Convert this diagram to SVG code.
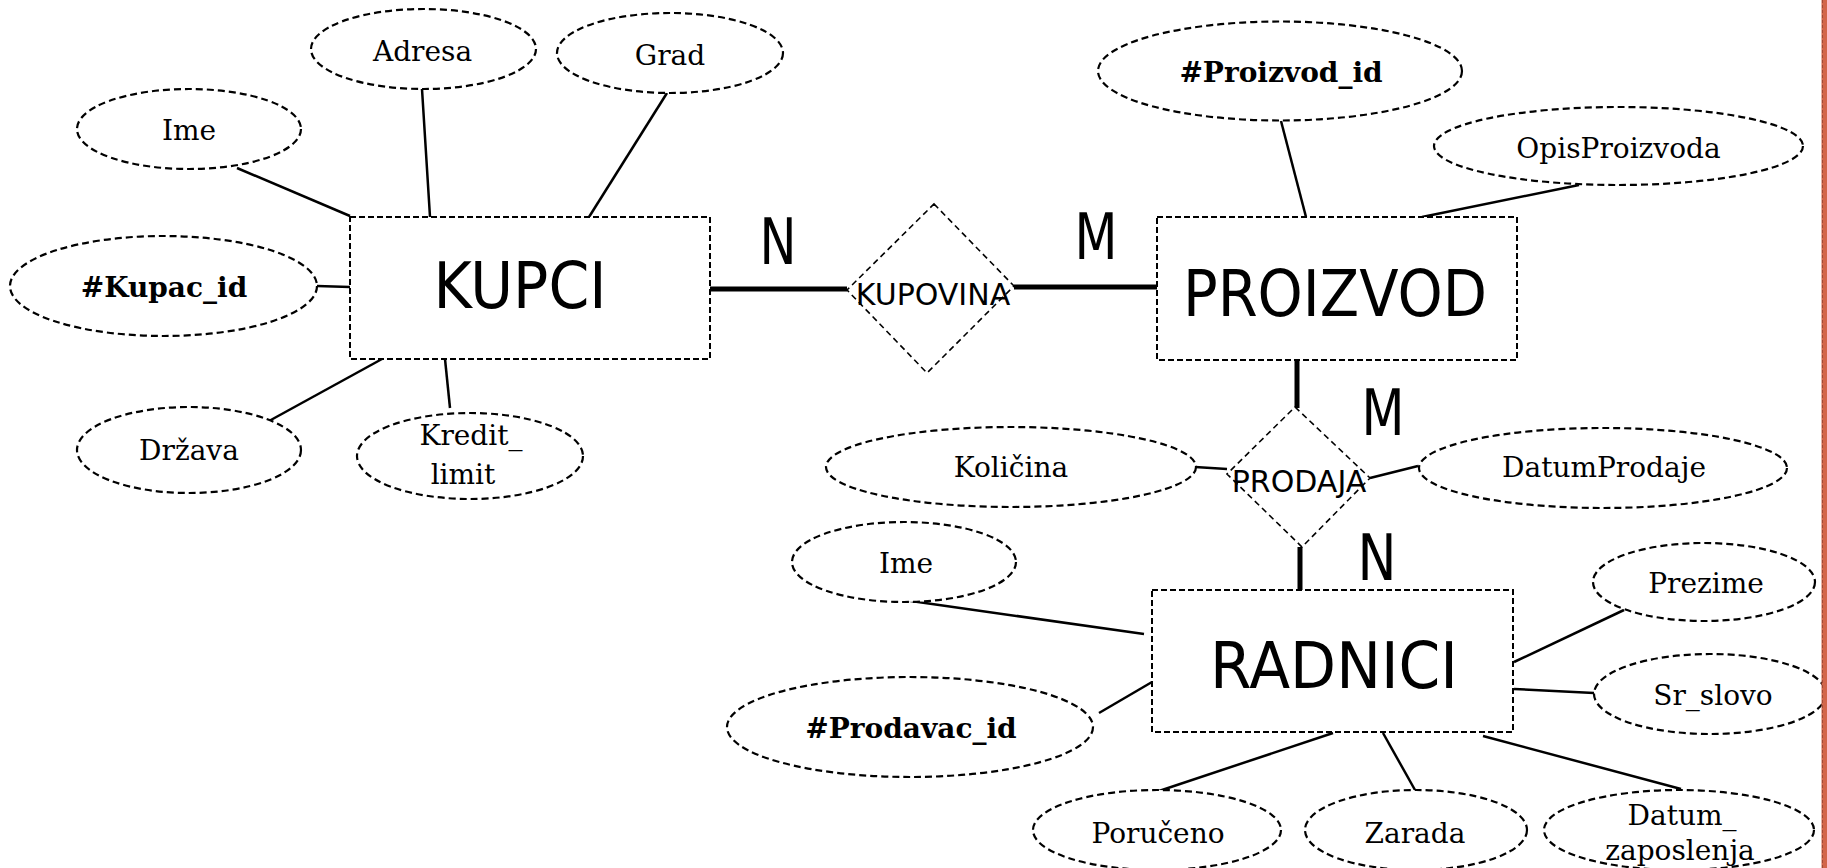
<svg xmlns="http://www.w3.org/2000/svg" width="1827" height="868" viewBox="0 0 1827 868">
<style>
.attr{fill:#fff;stroke:#000;stroke-width:2.2;stroke-dasharray:7 4}
.ent{fill:#fff;stroke:#000;stroke-width:2;stroke-dasharray:6 3}
.rel{fill:#fff;stroke:#000;stroke-width:1.6;stroke-dasharray:6 4}
.t{font-family:"DejaVu Serif","Liberation Serif",serif;font-size:28px;text-anchor:middle;fill:#000}
.b{font-weight:bold}
.big{font-family:"DejaVu Sans","Liberation Sans",sans-serif;font-size:64px;text-anchor:middle;fill:#000}
.rt{font-family:"DejaVu Sans","Liberation Sans",sans-serif;font-size:30px;text-anchor:middle;fill:#000}
.card{font-family:"DejaVu Sans","Liberation Sans",sans-serif;font-size:64px;text-anchor:middle;fill:#000}
.c{stroke:#000;stroke-width:2.5;fill:none}
.thick{stroke:#000;stroke-width:5;fill:none}
</style>
<rect width="1827" height="868" fill="#fff"/>
<g id="connectors">
<line class="c" x1="237" y1="168" x2="350" y2="216"/>
<line class="c" x1="422" y1="89" x2="430" y2="217"/>
<line class="c" x1="667" y1="93" x2="589" y2="217"/>
<line class="c" x1="317" y1="286" x2="350" y2="287"/>
<line class="c" x1="269" y1="421" x2="382" y2="359"/>
<line class="c" x1="450" y1="408" x2="445" y2="359"/>
<line class="c" x1="1281" y1="121" x2="1306" y2="217"/>
<line class="c" x1="1579" y1="185" x2="1422" y2="217"/>
<line class="c" x1="1195" y1="467" x2="1227" y2="469"/>
<line class="c" x1="1418" y1="466" x2="1370" y2="478"/>
<line class="c" x1="904" y1="600" x2="1144" y2="634"/>
<line class="c" x1="1099" y1="713" x2="1152" y2="682"/>
<line class="c" x1="1624" y1="610" x2="1514" y2="662"/>
<line class="c" x1="1514" y1="689" x2="1594" y2="693"/>
<line class="c" x1="1159" y1="791" x2="1333" y2="733"/>
<line class="c" x1="1383" y1="733" x2="1415" y2="790"/>
<line class="c" x1="1483" y1="736" x2="1681" y2="789"/>
<line class="thick" x1="710" y1="289" x2="847" y2="289"/>
<line class="thick" x1="1014" y1="287" x2="1157" y2="287"/>
<line class="thick" x1="1297" y1="360" x2="1297" y2="408"/>
<line class="thick" x1="1300" y1="547" x2="1300" y2="590"/>
</g>
<g id="kupci"><rect class="ent" x="350" y="217" width="360" height="142"/><text class="big" x="520" y="308" textLength="173" lengthAdjust="spacingAndGlyphs">KUPCI</text></g>
<g id="proizvod"><rect class="ent" x="1157" y="217" width="360" height="143"/><text class="big" x="1335" y="316" textLength="304" lengthAdjust="spacingAndGlyphs">PROIZVOD</text></g>
<g id="radnici"><rect class="ent" x="1152" y="590" width="361" height="142"/><text class="big" x="1334" y="688" textLength="248" lengthAdjust="spacingAndGlyphs">RADNICI</text></g>
<g id="kupovina"><polygon class="rel" points="934,204 1014,286 927,373 847,290"/><text class="rt" x="933" y="305">KUPOVINA</text></g>
<g id="prodaja"><polygon class="rel" points="1295,407 1370,478 1302,547 1227,474"/><text class="rt" x="1299" y="492">PRODAJA</text></g>
<g id="card-n1"><text class="card" x="778" y="264" textLength="37" lengthAdjust="spacingAndGlyphs">N</text></g>
<g id="card-m1"><text class="card" x="1096" y="259" textLength="43" lengthAdjust="spacingAndGlyphs">M</text></g>
<g id="card-m2"><text class="card" x="1383" y="435" textLength="43" lengthAdjust="spacingAndGlyphs">M</text></g>
<g id="card-n2"><text class="card" x="1377" y="580" textLength="39" lengthAdjust="spacingAndGlyphs">N</text></g>
<g id="a-ime1"><ellipse class="attr" cx="189" cy="129" rx="112" ry="40"/><text class="t" x="189" y="140">Ime</text></g>
<g id="a-adresa"><ellipse class="attr" cx="423.5" cy="49" rx="112.5" ry="40"/><text class="t" x="422.5" y="61">Adresa</text></g>
<g id="a-grad"><ellipse class="attr" cx="670" cy="53" rx="113" ry="40"/><text class="t" x="670" y="65">Grad</text></g>
<g id="a-kupacid"><ellipse class="attr" cx="163.5" cy="286" rx="153.5" ry="50"/><text class="t b" x="164" y="297">#Kupac_id</text></g>
<g id="a-drzava"><ellipse class="attr" cx="189" cy="450" rx="112" ry="43"/><text class="t" x="189" y="460">Država</text></g>
<g id="a-kredit"><ellipse class="attr" cx="470" cy="456" rx="113" ry="43"/><text class="t" x="471" y="445">Kredit_</text><text class="t" x="463" y="484">limit</text></g>
<g id="a-proizvodid"><ellipse class="attr" cx="1280" cy="71" rx="182" ry="49.5"/><text class="t b" x="1281" y="82">#Proizvod_id</text></g>
<g id="a-opis"><ellipse class="attr" cx="1618.5" cy="146" rx="184.5" ry="39"/><text class="t" x="1618.5" y="158">OpisProizvoda</text></g>
<g id="a-kolicina"><ellipse class="attr" cx="1011" cy="467" rx="185" ry="40"/><text class="t" x="1011" y="477">Količina</text></g>
<g id="a-datumprodaje"><ellipse class="attr" cx="1603" cy="468" rx="184" ry="40"/><text class="t" x="1604" y="477">DatumProdaje</text></g>
<g id="a-ime2"><ellipse class="attr" cx="904" cy="562" rx="112" ry="40"/><text class="t" x="906" y="573">Ime</text></g>
<g id="a-prodavacid"><ellipse class="attr" cx="910" cy="727" rx="183" ry="50"/><text class="t b" x="911" y="738">#Prodavac_id</text></g>
<g id="a-prezime"><ellipse class="attr" cx="1704" cy="582" rx="111" ry="39"/><text class="t" x="1706" y="593">Prezime</text></g>
<g id="a-srslovo"><ellipse class="attr" cx="1710" cy="694" rx="116" ry="40"/><text class="t" x="1713" y="705">Sr_slovo</text></g>
<g id="a-poruceno"><ellipse class="attr" cx="1157" cy="830" rx="124" ry="40"/><text class="t" x="1158" y="843">Poručeno</text></g>
<g id="a-zarada"><ellipse class="attr" cx="1416" cy="830" rx="111" ry="40"/><text class="t" x="1415" y="843">Zarada</text></g>
<g id="a-datumzap"><ellipse class="attr" cx="1679" cy="830" rx="135" ry="40"/><text class="t" x="1682" y="825">Datum_</text><text class="t" x="1680" y="860">zaposlenja</text></g>
<rect x="1821.5" y="0" width="5.5" height="868" fill="#D2664A"/>
<line x1="1822.5" y1="0" x2="1822.5" y2="868" stroke="#9E4A35" stroke-width="1" stroke-dasharray="3 2"/>
</svg>
